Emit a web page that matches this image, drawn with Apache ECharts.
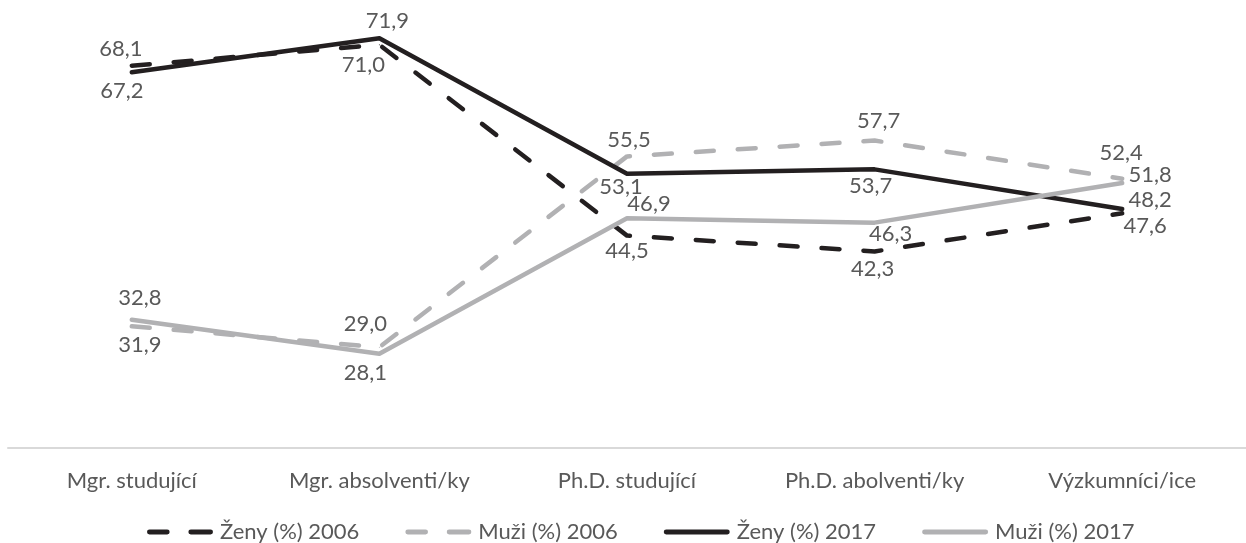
<!DOCTYPE html>
<html>
<head>
<meta charset="utf-8">
<script src="https://cdn.jsdelivr.net/npm/echarts@6/dist/echarts.min.js"></script>
<style>
  html, body { margin: 0; padding: 0; background: #ffffff; }
  #chart { width: 1246px; height: 543px; }
</style>
</head>
<body>
<div id="chart"></div>
<script>
// Categories along the horizontal axis
const categories = ['Mgr. studující', 'Mgr. absolventi/ky', 'Ph.D. studující', 'Ph.D. abolventi/ky', 'Výzkumníci/ice'];

// Shares in percent per group and year
const zeny2006 = [68.1, 71.0, 44.5, 42.3, 47.6];
const muzi2006 = [31.9, 29.0, 55.5, 57.7, 52.4];
const zeny2017 = [67.2, 71.9, 53.1, 53.7, 48.2];
const muzi2017 = [32.8, 28.1, 46.9, 46.3, 51.8];

// Series names shown in the legend
const seriesNames = ['Ženy (%) 2006', 'Muži (%) 2006', 'Ženy (%) 2017', 'Muži (%) 2017'];

// Where each value label sits relative to its point (pixels), per series
const labelShift = [
  [[-11, -17], [-16, 20], [0, 15], [-2, 17], [23, 13]],
  [[8, 19], [-14, -23], [2, -16], [4, -20], [-1, -26]],
  [[-10, 19], [8, -17], [-6, 13], [-4, 17], [28, -9]],
  [[8, -22], [-14, 19], [22, -14], [16, 11], [28, -8]]
];

const BLACK = '#231f20';
const GRAY = '#b1b1b3';
const TEXT = '#595959';
const FONT = 'Lato';
const FONT_SIZE = 22;

// Legend swatches: two dashes for dashed series, one bar for solid series
const DASH_ICON = 'path://M2,0 H20 A2,2 0 0 1 20,5 H2 A2,2 0 0 1 2,0 Z M44,0 H64 A2,2 0 0 1 64,5 H44 A2,2 0 0 1 44,0 Z';
const SOLID_ICON = 'path://M2,0 H64 A2,2 0 0 1 64,5 H2 A2,2 0 0 1 2,0 Z';

function withLabels(values, shifts) {
  return values.map(function (v, i) {
    return {
      value: v,
      label: { position: 'inside', offset: shifts[i] }
    };
  });
}

function lineSeries(name, values, shifts, color, dashed) {
  return {
    name: name,
    type: 'line',
    data: withLabels(values, shifts),
    symbol: 'circle',
    symbolSize: 1,
    showSymbol: true,
    itemStyle: { color: color },
    lineStyle: {
      color: color,
      width: 4.5,
      type: dashed ? [18, 24] : 'solid',
      cap: 'round',
      join: 'round'
    },
    label: {
      show: true,
      color: TEXT,
      fontFamily: FONT,
      fontSize: FONT_SIZE,
      formatter: function (p) { return p.value.toFixed(1).replace('.', ','); }
    },
    emphasis: { disabled: true }
  };
}

const chart = echarts.init(document.getElementById('chart'), null, { renderer: 'canvas' });

chart.setOption({
  animation: false,
  backgroundColor: '#ffffff',
  grid: { left: 8, top: 16, width: 1249, height: 432, containLabel: false },
  xAxis: {
    type: 'category',
    data: categories,
    boundaryGap: true,
    axisLine: { show: true, lineStyle: { color: '#d9d9d9', width: 2 } },
    axisTick: { show: false },
    axisLabel: { color: TEXT, fontFamily: FONT, fontSize: FONT_SIZE, margin: 22, interval: 0 }
  },
  yAxis: {
    type: 'value',
    min: 15,
    max: 75,
    show: false,
    splitLine: { show: false }
  },
  legend: {
    data: [
      { name: seriesNames[0], icon: DASH_ICON },
      { name: seriesNames[1], icon: DASH_ICON },
      { name: seriesNames[2], icon: SOLID_ICON },
      { name: seriesNames[3], icon: SOLID_ICON }
    ],
    left: 142,
    top: 516,
    itemWidth: 66,
    itemHeight: 5,
    itemGap: 46,
    textStyle: { color: TEXT, fontFamily: FONT, fontSize: FONT_SIZE, padding: [0, 0, 0, 2] }
  },
  series: [
    lineSeries(seriesNames[0], zeny2006, labelShift[0], BLACK, true),
    lineSeries(seriesNames[1], muzi2006, labelShift[1], GRAY, true),
    lineSeries(seriesNames[2], zeny2017, labelShift[2], BLACK, false),
    lineSeries(seriesNames[3], muzi2017, labelShift[3], GRAY, false)
  ]
});
</script>
</body>
</html>
